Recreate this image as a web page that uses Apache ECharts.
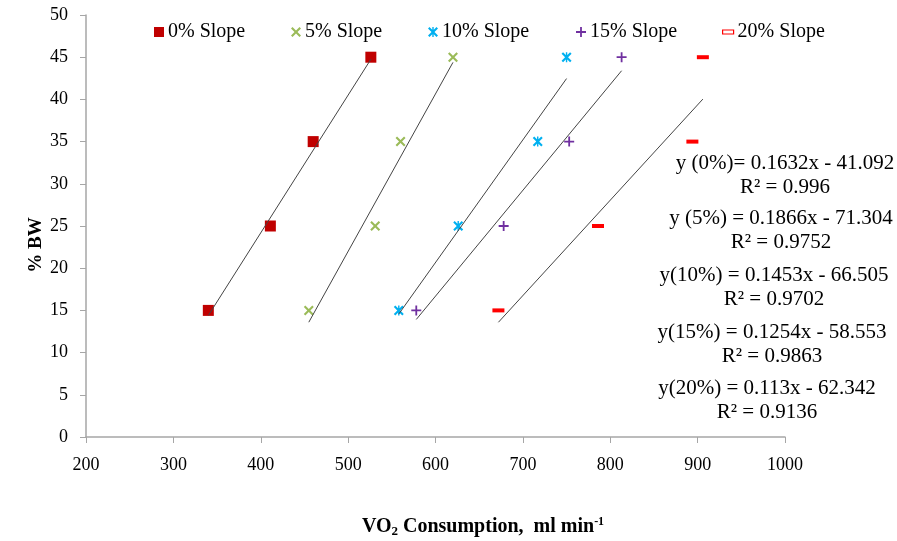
<!DOCTYPE html>
<html>
<head>
<meta charset="utf-8">
<script src="https://cdn.jsdelivr.net/npm/echarts@6/dist/echarts.min.js"></script>
<style>
    html, body { margin: 0; padding: 0; background: #fff; }
    #chart { width: 897px; height: 541px; }
</style>
</head>
<body>
<div id="chart"></div>
<script>
var seriesNames = ['0% Slope', '5% Slope', '10% Slope', '15% Slope', '20% Slope'];
var bwLevels = [15, 25, 35, 45];
var vo2Slope0 = [340, 411, 460, 526];
var vo2Slope5 = [455, 531, 560, 620];
var vo2Slope10 = [558, 626, 717, 750];
var vo2Slope15 = [578, 678, 753, 813];
var vo2Slope20 = [672, 786, 894, 906];
// trend coefficients as printed on the chart
var trendSlopes = [0.1632, 0.1866, 0.1453, 0.1254, 0.113];
var trendIntercepts = [-41.092, -71.304, -66.505, -58.553, -62.342];
var eqLabels = [
    ['y (0%)= 0.1632x - 41.092', 'R\u00b2 = 0.996'],
    ['y (5%) = 0.1866x - 71.304', 'R\u00b2 = 0.9752'],
    ['y(10%) = 0.1453x - 66.505', 'R\u00b2 = 0.9702'],
    ['y(15%) = 0.1254x - 58.553', 'R\u00b2 = 0.9863'],
    ['y(20%) = 0.113x - 62.342', 'R\u00b2 = 0.9136']
];

var vo2All = [vo2Slope0, vo2Slope5, vo2Slope10, vo2Slope15, vo2Slope20];
var colors = ['#C00000', '#9BBB59', '#00B0F0', '#7030A0', '#FF0000'];
var crossPath = 'path://M0,1.5 L1.5,0 L5,3.5 L8.5,0 L10,1.5 L6.5,5 L10,8.5 L8.5,10 L5,6.5 L1.5,10 L0,8.5 L3.5,5 Z';
var starPath = 'path://M0,1.5 L1.5,0 L5,3.5 L8.5,0 L10,1.5 L6.5,5 L10,8.5 L8.5,10 L5,6.5 L1.5,10 L0,8.5 L3.5,5 Z M4.3,0 H5.7 V10 H4.3 Z';
var plusPath = 'path://M4.1,0 H5.9 V4.1 H10 V5.9 H5.9 V10 H4.1 V5.9 H0 V4.1 H4.1 Z';
var symbols = ['rect', crossPath, starPath, plusPath, 'rect'];
var symbolSizes = [11, 10, 10, 10, [12, 4]];
var font = '"Liberation Serif", "Times New Roman", serif';

var series = [];
vo2All.forEach(function (xs, i) {
    series.push({
        name: seriesNames[i],
        type: 'scatter',
        symbol: symbols[i],
        symbolSize: symbolSizes[i],
        itemStyle: {color: colors[i], opacity: 1},
        z: 3,
        data: xs.map(function (x, k) { return [x, bwLevels[k]]; })
    });
    var x0 = Math.min.apply(null, xs), x1 = Math.max.apply(null, xs);
    series.push({
        name: seriesNames[i] + ' trend',
        type: 'line',
        symbol: 'none',
        silent: true,
        lineStyle: {color: '#444', width: 1},
        z: 4,
        data: [[x0, trendSlopes[i] * x0 + trendIntercepts[i]], [x1, trendSlopes[i] * x1 + trendIntercepts[i]]]
    });
});

var legendLeft = [149, 286, 423, 571, 717];
var legends = seriesNames.map(function (n, i) {
    var item = {name: n};
    if (i === 4) {
        item.icon = 'rect';
        item.itemStyle = {color: '#fff', borderColor: '#FF0000', borderWidth: 1.2};
    }
    return {
        data: [item],
        left: legendLeft[i],
        top: 17,
        itemWidth: i === 4 ? 11 : 10,
        itemHeight: i === 4 ? 4 : 10,
        itemGap: 4,
        textStyle: {fontFamily: font, fontSize: 20, color: '#000', padding: [0, 0, 0, -1]}
    };
});

var eqCenters = [785, 781, 774, 772, 767];
var eqTops = [163, 218, 275, 332, 388];
var graphics = [];
eqLabels.forEach(function (pair, i) {
    pair.forEach(function (t, k) {
        graphics.push({
            type: 'text',
            x: eqCenters[i],
            y: eqTops[i] + k * 24,
            z: 10,
            style: {
                text: t,
                align: 'center',
                verticalAlign: 'middle',
                font: '21px ' + font,
                fill: '#000'
            }
        });
    });
});

// axis titles
graphics.push({
    type: 'text',
    x: 36,
    y: 245,
    rotation: Math.PI / 2,
    style: {
        text: '% BW',
        align: 'center',
        verticalAlign: 'middle',
        font: 'bold 19px ' + font,
        fill: '#000'
    }
});
graphics.push({
    type: 'text',
    x: 483,
    y: 527,
    style: {
        text: '{b|VO}{s|2}{b| Consumption,  ml min}{p|-1}',
        align: 'center',
        verticalAlign: 'middle',
        rich: {
            b: {fontFamily: font, fontSize: 20, fontWeight: 'bold', fill: '#000'},
            s: {fontFamily: font, fontSize: 13, fontWeight: 'bold', fill: '#000', padding: [10, 0, 0, 0]},
            p: {fontFamily: font, fontSize: 12, fontWeight: 'bold', fill: '#000', padding: [0, 0, 10, 0]}
        }
    }
});

var chart = echarts.init(document.getElementById('chart'));
chart.setOption({
    animation: false,
    backgroundColor: '#fff',
    grid: {left: 86, right: 112, top: 15, bottom: 104, containLabel: false},
    legend: legends,
    xAxis: {
        type: 'value',
        min: 200,
        max: 1000,
        interval: 100,
        splitLine: {show: false},
        axisLine: {lineStyle: {color: '#a6a6a6', width: 1.5}},
        axisTick: {inside: false, length: 6, lineStyle: {color: '#a6a6a6'}},
        axisLabel: {
            fontFamily: font, fontSize: 18, color: '#000', margin: 19,
            formatter: function (v) { return String(v); }
        }
    },
    yAxis: {
        type: 'value',
        min: 0,
        max: 50,
        interval: 5,
        splitLine: {show: false},
        axisLine: {show: true, lineStyle: {color: '#a6a6a6', width: 1.5}},
        axisTick: {show: true, inside: false, length: 6, lineStyle: {color: '#a6a6a6'}},
        axisLabel: {fontFamily: font, fontSize: 18, color: '#000', margin: 18}
    },
    graphic: graphics,
    series: series
});
</script>
</body>
</html>
